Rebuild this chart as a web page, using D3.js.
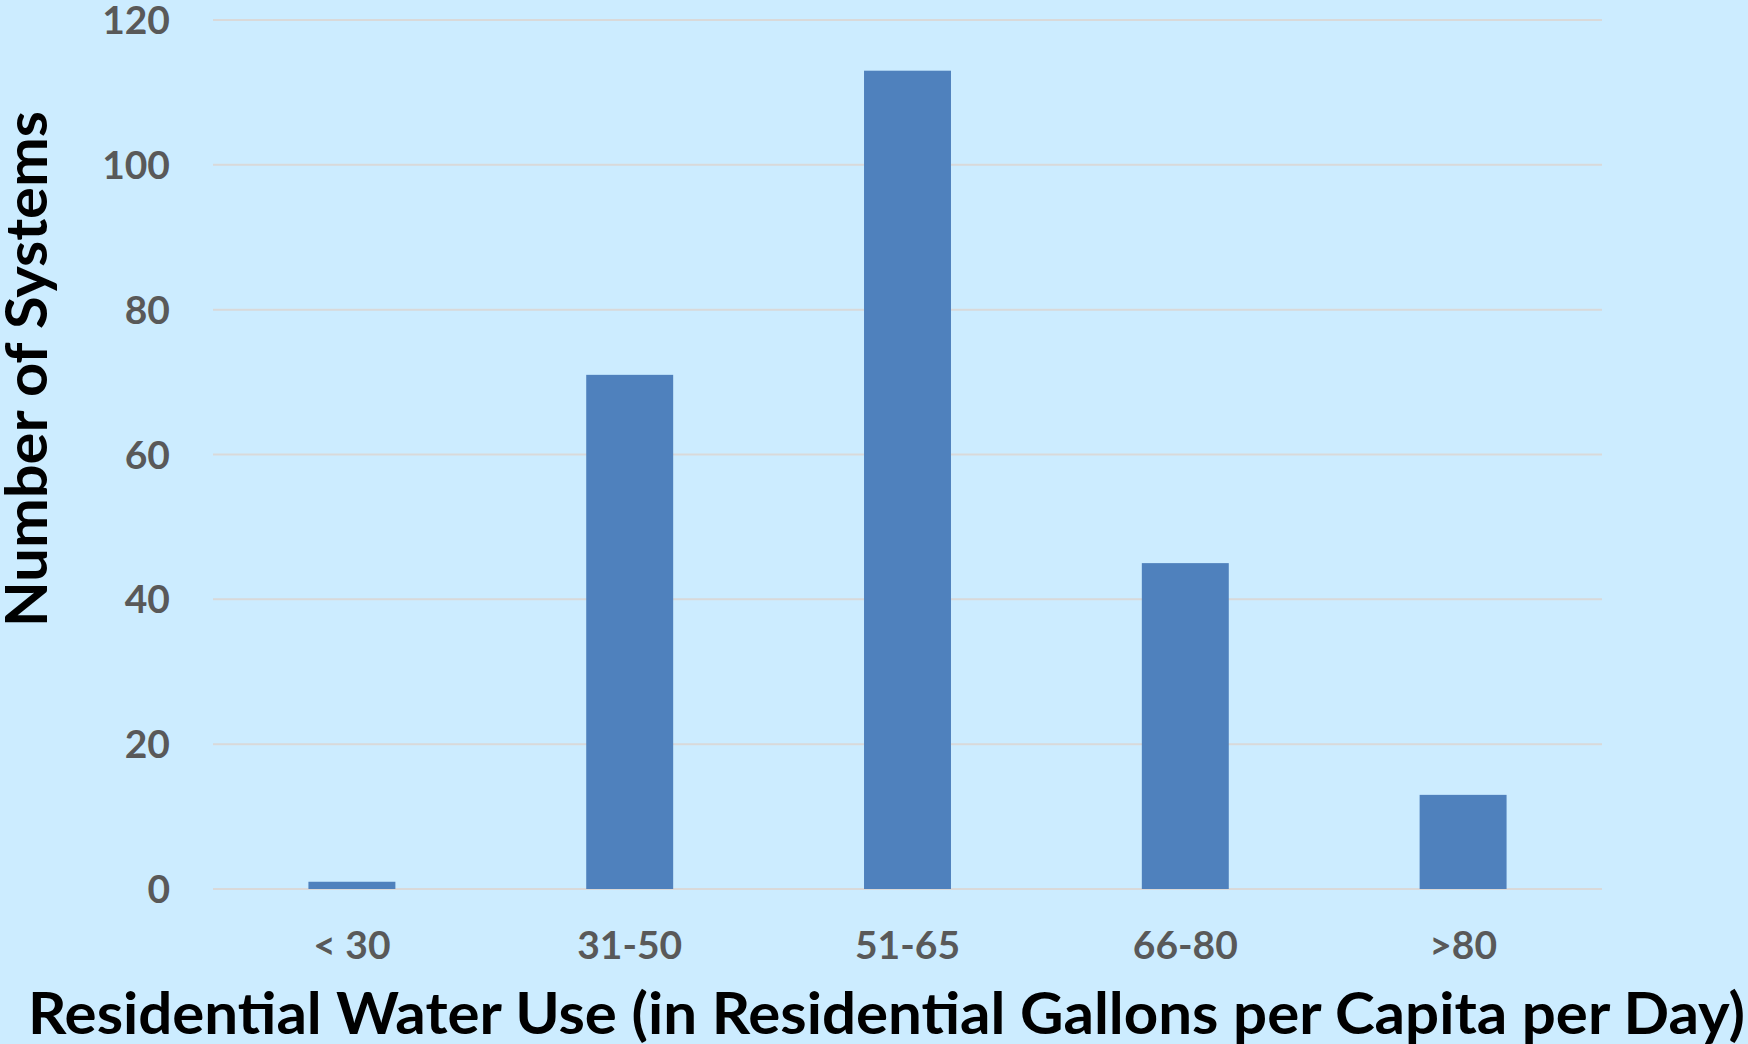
<!DOCTYPE html>
<html>
<head>
<meta charset="utf-8">
<script src="https://cdn.jsdelivr.net/npm/d3@7"></script>
<style>
  html, body { margin: 0; padding: 0; background: #CCECFF; }
  svg { display: block; font-family: Lato, "Open Sans", sans-serif; }
</style>
</head>
<body>
<div id="chart"></div>
<script>
// categories and counts
var categories = ["< 30", "31-50", "51-65", "66-80", ">80"];
var counts = [1, 71, 113, 45, 13];
var yTicks = [0, 20, 40, 60, 80, 100, 120];

var W = 1748, H = 1044;
var margin = {top: 20, right: 146, bottom: 155, left: 213},
    width = W - margin.left - margin.right,
    height = H - margin.top - margin.bottom;

var svg = d3.select("#chart").append("svg")
    .attr("width", W)
    .attr("height", H);

svg.append("rect").attr("width", W).attr("height", H).attr("fill", "#CCECFF");

var g = svg.append("g")
    .attr("transform", "translate(" + margin.left + "," + margin.top + ")");

var x = d3.scaleBand()
    .domain(categories)
    .range([0, width])
    .paddingInner(0.687)
    .paddingOuter(0.3435);

var y = d3.scaleLinear()
    .domain([0, 120])
    .range([height, 0]);

// gridlines
g.selectAll(".grid")
    .data(yTicks)
    .enter().append("line")
    .attr("x1", 0).attr("x2", width)
    .attr("y1", function(d) { return y(d); })
    .attr("y2", function(d) { return y(d); })
    .attr("stroke", "#D9D9D9")
    .attr("stroke-width", 2);

// y tick labels
g.selectAll(".ylab")
    .data(yTicks)
    .enter().append("text")
    .attr("x", -43)
    .attr("y", function(d) { return y(d); })
    .attr("dy", "0.36em")
    .attr("text-anchor", "end")
    .attr("font-size", 39)
    .attr("font-weight", "bold")
    .attr("fill", "#595959")
    .text(function(d) { return d; });

// bars
g.selectAll(".bar")
    .data(counts)
    .enter().append("rect")
    .attr("x", function(d, i) { return x(categories[i]); })
    .attr("y", function(d) { return y(d); })
    .attr("width", x.bandwidth())
    .attr("height", function(d) { return height - y(d); })
    .attr("fill", "#4F81BD");

// x tick labels
g.selectAll(".xlab")
    .data(categories)
    .enter().append("text")
    .attr("x", function(d) { return x(d) + x.bandwidth() / 2; })
    .attr("y", height + 70)
    .attr("text-anchor", "middle")
    .attr("font-size", 39)
    .attr("font-weight", "bold")
    .attr("fill", "#595959")
    .text(function(d) { return d; });

// axis titles
svg.append("text")
    .attr("x", 28)
    .attr("y", 1034)
    .attr("font-size", 58)
    .attr("font-weight", "bold")
    .attr("fill", "#000")
    .attr("textLength", 1717)
    .attr("lengthAdjust", "spacingAndGlyphs")
    .text("Residential Water Use (in Residential Gallons per Capita per Day)");

svg.append("text")
    .attr("transform", "translate(47,369) rotate(-90)")
    .attr("text-anchor", "middle")
    .attr("font-size", 58)
    .attr("font-weight", "bold")
    .attr("fill", "#000")
    .attr("textLength", 516)
    .attr("lengthAdjust", "spacingAndGlyphs")
    .text("Number of Systems");
</script>
</body>
</html>
